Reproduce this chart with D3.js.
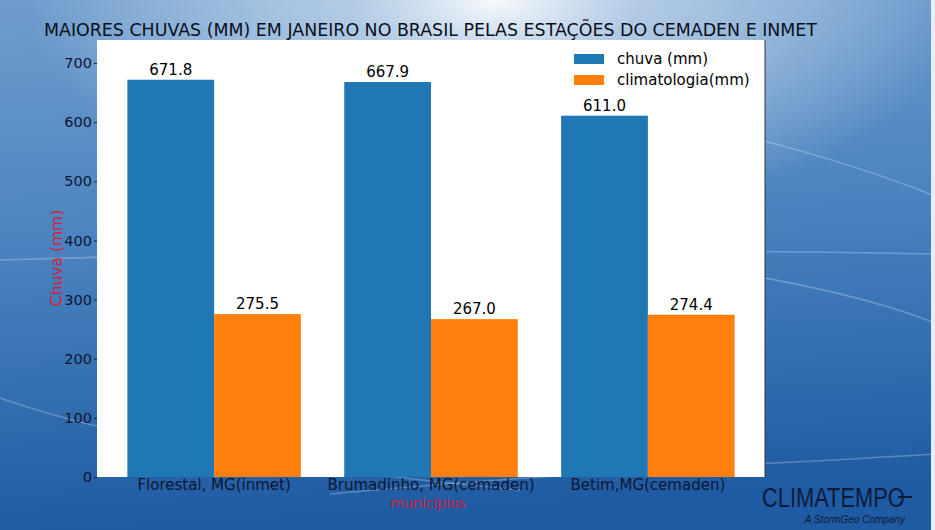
<!DOCTYPE html>
<html>
<head>
<meta charset="utf-8">
<script src="https://cdn.jsdelivr.net/npm/d3@7"></script>
<style>
  body { margin: 0; }
  svg { display: block; font-family: "DejaVu Sans", sans-serif; }
</style>
</head>
<body>
<div id="chart"></div>
<script>
// data
const municipios = ["Florestal, MG(inmet)", "Brumadinho, MG(cemaden)", "Betim,MG(cemaden)"];
const chuva = [671.8, 667.9, 611.0];
const climatologia = [275.5, 267.0, 274.4];
const series = ["chuva (mm)", "climatologia(mm)"];
const yTicks = [0, 100, 200, 300, 400, 500, 600, 700];

const width = 935, height = 530;
const plot = {left: 97, right: 765, top: 40, bottom: 477};

const svg = d3.select("#chart")
    .append("svg")
    .attr("width", width)
    .attr("height", height);

const defs = svg.append("defs");

// background gradient
const bg = defs.append("linearGradient")
    .attr("id", "bg").attr("x1", 0).attr("y1", 0).attr("x2", 0.1).attr("y2", 1);
bg.append("stop").attr("offset", 0).attr("stop-color", "#6f9dcd");
bg.append("stop").attr("offset", 0.45).attr("stop-color", "#4b84c0");
bg.append("stop").attr("offset", 1).attr("stop-color", "#1f5ba2");

const glow = defs.append("radialGradient")
    .attr("id", "glow").attr("cx", 0.53).attr("cy", 0).attr("r", 0.5)
    .attr("gradientTransform", "scale(1,0.85)");
glow.append("stop").attr("offset", 0).attr("stop-color", "#ffffff").attr("stop-opacity", 0.95);
glow.append("stop").attr("offset", 0.3).attr("stop-color", "#e4edf6").attr("stop-opacity", 0.6);
glow.append("stop").attr("offset", 1).attr("stop-color", "#ffffff").attr("stop-opacity", 0);

svg.append("rect").attr("width", width).attr("height", height).attr("fill", "url(#bg)");
svg.append("rect").attr("width", width).attr("height", height).attr("fill", "url(#glow)");

// faint swooshes in the background
const swooshes = [
    "M0,260 C200,254 500,246 935,254",
    "M0,398 C120,440 300,470 520,490",
    "M760,140 C830,158 890,178 935,196",
    "M760,277 C830,290 890,305 935,323",
    "M330,494 C560,472 780,464 935,454"
];
svg.selectAll(".swoosh")
    .data(swooshes)
    .enter().append("path")
    .attr("d", d => d)
    .attr("fill", "none")
    .attr("stroke", "#ffffff")
    .attr("stroke-opacity", 0.25)
    .attr("stroke-width", 1.5);

svg.append("rect")
    .attr("x", 931).attr("y", 0).attr("width", 4).attr("height", height)
    .attr("fill", "#e8eef5");

// scales
const x0 = d3.scaleLinear()
    .domain([-0.54, municipios.length - 1 + 0.54])
    .range([plot.left, plot.right]);
const barW = x0(0.4) - x0(0);

const y = d3.scaleLinear()
    .domain([0, 739])
    .range([plot.bottom, plot.top]);

const color = d3.scaleOrdinal().domain(series).range(["#1f77b4", "#ff7f0e"]);

// plot area
svg.append("rect")
    .attr("x", plot.left).attr("y", plot.top)
    .attr("width", plot.right - plot.left).attr("height", plot.bottom - plot.top)
    .attr("fill", "#ffffff");
svg.append("line")
    .attr("x1", plot.right).attr("x2", plot.right)
    .attr("y1", plot.top).attr("y2", plot.bottom)
    .attr("stroke", "#333").attr("stroke-width", 1);

// bars
const rows = municipios.map((m, i) => ({i: i, vals: [chuva[i], climatologia[i]]}));
rows.forEach(r => {
    r.vals.forEach((v, j) => {
        const bx = x0(r.i + (j - 1) * 0.4);
        svg.append("rect")
            .attr("x", bx)
            .attr("y", y(v))
            .attr("width", barW)
            .attr("height", y(0) - y(v))
            .attr("fill", color(series[j]));

        svg.append("text")
            .attr("x", bx + barW / 2)
            .attr("y", y(v) - 5)
            .attr("text-anchor", "middle")
            .attr("font-size", 15)
            .attr("fill", "#000")
            .text(v.toFixed(1));
    });
});

// y axis
const yAxis = svg.append("g")
    .attr("transform", `translate(${plot.left},0)`)
    .call(d3.axisLeft(y).tickValues(yTicks).tickSize(3).tickPadding(2).tickFormat(d3.format("d")));
yAxis.select(".domain").remove();
yAxis.selectAll("line").attr("stroke", "#1a2540");
yAxis.selectAll("text")
    .attr("font-size", 14.5)
    .attr("font-family", "DejaVu Sans, sans-serif")
    .attr("fill", "#0d1632");

// x tick labels
svg.selectAll(".xlab")
    .data(municipios)
    .enter().append("text")
    .attr("x", (d, i) => x0(i))
    .attr("y", 490)
    .attr("text-anchor", "middle")
    .attr("font-size", 15)
    .attr("fill", "#0d1632")
    .text(d => d);

// axis titles
svg.append("text")
    .attr("x", x0(1) - 3)
    .attr("y", 508)
    .attr("text-anchor", "middle")
    .attr("font-size", 14)
    .attr("fill", "#d2213f")
    .text("municípios");

svg.append("text")
    .attr("transform", "rotate(-90)")
    .attr("x", -258)
    .attr("y", 62)
    .attr("text-anchor", "middle")
    .attr("font-size", 15.5)
    .attr("fill", "#d2213f")
    .text("Chuva (mm)");

// title
svg.append("text")
    .attr("x", 44)
    .attr("y", 36)
    .attr("font-size", 17)
    .attr("fill", "#0a0f20")
    .attr("textLength", 773)
    .attr("lengthAdjust", "spacingAndGlyphs")
    .text("MAIORES CHUVAS (MM) EM JANEIRO NO BRASIL PELAS ESTAÇÕES DO CEMADEN E INMET");

// legend
const legend = svg.append("g").attr("transform", "translate(574,54)");
series.forEach((s, j) => {
    legend.append("rect")
        .attr("x", 0).attr("y", j * 21)
        .attr("width", 30).attr("height", 10)
        .attr("fill", color(s));
    legend.append("text")
        .attr("x", 43).attr("y", j * 21 + 10)
        .attr("font-size", 15)
        .attr("fill", "#000")
        .text(s);
});

// logo
svg.append("text")
    .attr("transform", "translate(762,507) scale(0.78,1)")
    .attr("font-family", "Liberation Sans, sans-serif")
    .attr("font-size", 28)
    .attr("fill", "#0b1a3a")
    .text("CLIMATEMPO");
svg.append("line")
    .attr("x1", 898).attr("x2", 912)
    .attr("y1", 497).attr("y2", 497)
    .attr("stroke", "#0b1a3a").attr("stroke-width", 2);
svg.append("text")
    .attr("x", 905)
    .attr("y", 523)
    .attr("text-anchor", "end")
    .attr("font-family", "Liberation Sans, sans-serif")
    .attr("font-style", "italic")
    .attr("font-size", 10)
    .attr("fill", "#0b1a3a")
    .text("A StormGeo Company");
</script>
</body>
</html>
